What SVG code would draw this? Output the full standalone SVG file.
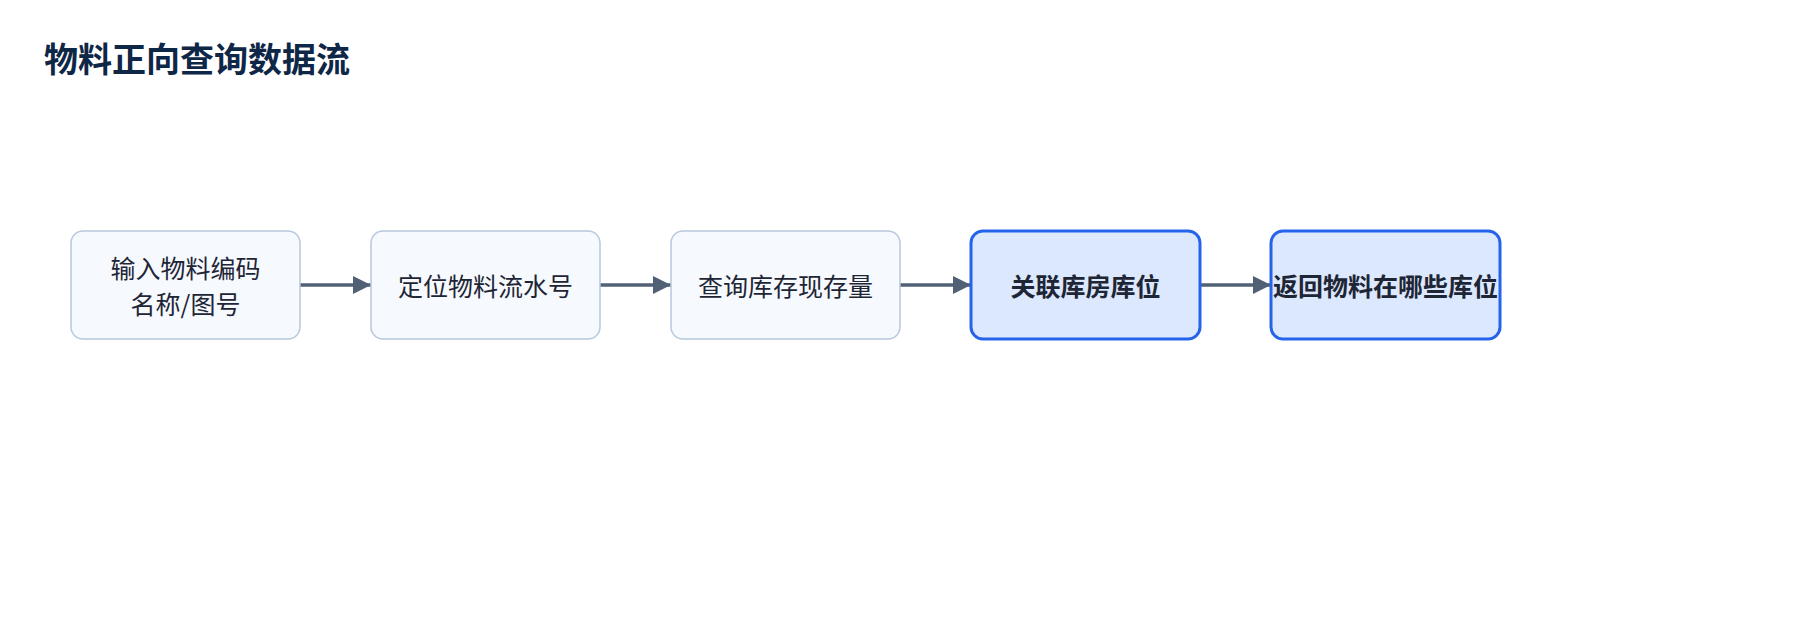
<svg xmlns="http://www.w3.org/2000/svg" width="1800" height="620" viewBox="0 0 1800 620">
<defs>
<style>
.title{font-family:"Noto Sans CJK SC","Noto Sans",sans-serif;font-size:34px;font-weight:700;fill:#0f2747;}
.box{fill:#f6f9fe;stroke:#b7c8de;stroke-width:1.5;}
.hl{fill:#dbe8fd;stroke:#2563eb;stroke-width:3;}
.t{font-family:"Noto Sans CJK SC","Noto Sans",sans-serif;font-size:25px;fill:#1e2535;text-anchor:middle;dominant-baseline:central;}
.tb{font-weight:700;}
.edge{stroke:#526075;stroke-width:3.5;fill:none;}
</style>
<marker id="arr" markerWidth="18" markerHeight="18" viewBox="0 0 18 18" refX="18" refY="9" orient="auto" markerUnits="userSpaceOnUse">
<path d="M0,0 L18,9 L0,18 Z" fill="#526075"/>
</marker>
</defs>
<rect width="1800" height="620" fill="#ffffff"/>
<text class="title" x="44" y="57" dominant-baseline="central">物料正向查询数据流</text>
<g id="connectors">
<line class="edge" x1="300" y1="285" x2="371" y2="285" marker-end="url(#arr)"/>
<line class="edge" x1="600" y1="285" x2="671" y2="285" marker-end="url(#arr)"/>
<line class="edge" x1="900" y1="285" x2="971" y2="285" marker-end="url(#arr)"/>
<line class="edge" x1="1200" y1="285" x2="1271" y2="285" marker-end="url(#arr)"/>
</g>
<g id="n1">
<rect class="box" x="71" y="231" width="229" height="108" rx="12"/>
<text class="t" x="185.5" y="267">输入物料编码</text>
<text class="t" x="185.5" y="303">名称/图号</text>
</g>
<g id="n2">
<rect class="box" x="371" y="231" width="229" height="108" rx="12"/>
<text class="t" x="485.5" y="285">定位物料流水号</text>
</g>
<g id="n3">
<rect class="box" x="671" y="231" width="229" height="108" rx="12"/>
<text class="t" x="785.5" y="285">查询库存现存量</text>
</g>
<g id="n4">
<rect class="hl" x="971" y="231" width="229" height="108" rx="12"/>
<text class="t tb" x="1085.5" y="285">关联库房库位</text>
</g>
<g id="n5">
<rect class="hl" x="1271" y="231" width="229" height="108" rx="12"/>
<text class="t tb" x="1385.5" y="285">返回物料在哪些库位</text>
</g>
</svg>
